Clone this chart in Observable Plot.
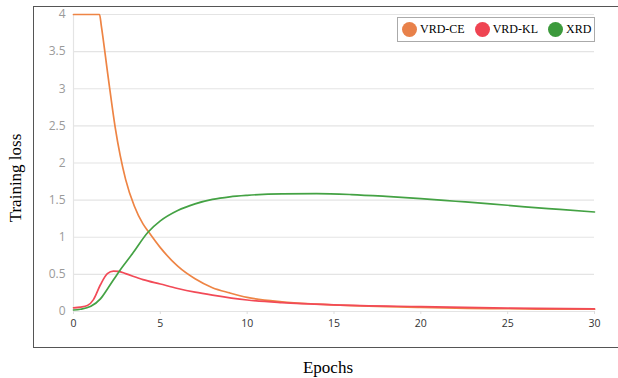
<!DOCTYPE html>
<html><head><meta charset="utf-8">
<script src="https://cdn.jsdelivr.net/npm/d3@7"></script>
<script src="https://cdn.jsdelivr.net/npm/@observablehq/plot@0.6"></script>
<style>
body{margin:0;background:#fff;width:618px;height:378px;overflow:hidden;position:relative;font-family:"Liberation Serif",serif;}
#frame{position:absolute;left:33px;top:6px;width:600px;height:342px;border:1.5px solid #555;box-sizing:border-box;}
#chart{position:absolute;left:0;top:0;}
#ytitle{position:absolute;left:16px;top:178px;transform:translate(-50%,-50%) rotate(-90deg);font-size:17px;white-space:nowrap;color:#000;}
#xtitle{position:absolute;left:328px;top:368px;transform:translate(-50%,-50%);font-size:17px;color:#000;}
#legend{position:absolute;left:397px;top:17px;width:198px;height:25px;box-sizing:border-box;border:1px solid #aaa;background:#fff;display:flex;align-items:center;font-size:12px;padding-left:4px;white-space:nowrap;}
.it{display:flex;align-items:center;margin-right:10px;flex-shrink:0;white-space:nowrap;}
.dot{width:15px;height:15px;border-radius:50%;margin-right:3px;flex-shrink:0;}
</style></head>
<body>
<div id="frame"></div>
<div id="chart"></div>
<div id="ytitle">Training loss</div>
<div id="xtitle">Epochs</div>
<div id="legend"></div>
<script>
const seriesNames = ["VRD-CE", "VRD-KL", "XRD"];
const seriesColors = ["#EE8444", "#F24A57", "#44A244"];
const legendColors = ["#E8814A", "#EF4452", "#3C9A3C"];

const xCE = [0, 1.5, 1.6, 2, 2.4, 3, 3.5, 4, 4.3, 5, 6, 7, 8, 9, 10, 12, 14, 16, 18, 20, 22, 24, 26, 28, 30];
const yCE = [4, 4, 3.85, 3.15, 2.48, 1.78, 1.42, 1.18, 1.08, 0.86, 0.61, 0.44, 0.32, 0.25, 0.19, 0.13, 0.1, 0.08, 0.065, 0.055, 0.045, 0.04, 0.035, 0.03, 0.03];

const xKL = [0, 0.4, 0.8, 1.15, 1.55, 1.95, 2.3, 2.6, 3, 4, 5, 6, 7, 8, 10, 12, 15, 20, 25, 30];
const yKL = [0.05, 0.06, 0.08, 0.16, 0.36, 0.51, 0.545, 0.54, 0.51, 0.43, 0.37, 0.31, 0.26, 0.22, 0.155, 0.12, 0.09, 0.065, 0.045, 0.035];

const xXRD = [0, 0.4, 1, 1.55, 2, 2.6, 3.4, 4.3, 5, 6, 7, 8, 9, 10, 12, 14, 16, 18, 20, 22, 24, 26, 28, 30];
const yXRD = [0.02, 0.03, 0.07, 0.17, 0.32, 0.53, 0.78, 1.07, 1.22, 1.36, 1.45, 1.51, 1.545, 1.565, 1.585, 1.588, 1.575, 1.55, 1.52, 1.485, 1.45, 1.41, 1.375, 1.34];

const xTicks = [0, 5, 10, 15, 20, 25, 30];
const yTicks = [0, 0.5, 1, 1.5, 2, 2.5, 3, 3.5, 4];

const rows = [];
[[xCE, yCE], [xKL, yKL], [xXRD, yXRD]].forEach(([xs, ys], i) => {
  xs.forEach((x, j) => rows.push({series: seriesNames[i], x, y: ys[j]}));
});

const chart = Plot.plot({
  width: 618, height: 378,
  marginLeft: 73, marginRight: 24, marginTop: 14, marginBottom: 67,
  style: {fontFamily: "'Open Sans', sans-serif", background: "transparent"},
  x: {domain: [0, 30], ticks: xTicks, label: null},
  y: {domain: [0, 4], ticks: yTicks, label: null},
  color: {domain: seriesNames, range: seriesColors},
  marks: [
    Plot.gridY(yTicks, {stroke: "#e4e4e4", strokeOpacity: 1, strokeWidth: 1.2}),
    Plot.ruleX([0], {stroke: "#e4e4e4", strokeWidth: 1.2}),
    Plot.axisY({ticks: yTicks, tickSize: 0, tickPadding: 8, fill: "#9a9a9a", fontSize: 12, label: null, tickFormat: d => String(d)}),
    Plot.axisX({ticks: xTicks, tickSize: 3, stroke: "#ddd", tickPadding: 5, fill: "#333", fontSize: 10.5, label: null}),
    Plot.line(rows, {x: "x", y: "y", z: "series", stroke: "series", strokeWidth: 1.7, curve: "monotone-x"})
  ]
});
document.getElementById("chart").appendChild(chart);

const lg = document.getElementById("legend");
seriesNames.forEach((n, i) => {
  const it = document.createElement("div"); it.className = "it";
  const d = document.createElement("div"); d.className = "dot"; d.style.background = legendColors[i];
  const t = document.createElement("span"); t.textContent = n;
  it.appendChild(d); it.appendChild(t); lg.appendChild(it);
});
</script>
</body></html>
